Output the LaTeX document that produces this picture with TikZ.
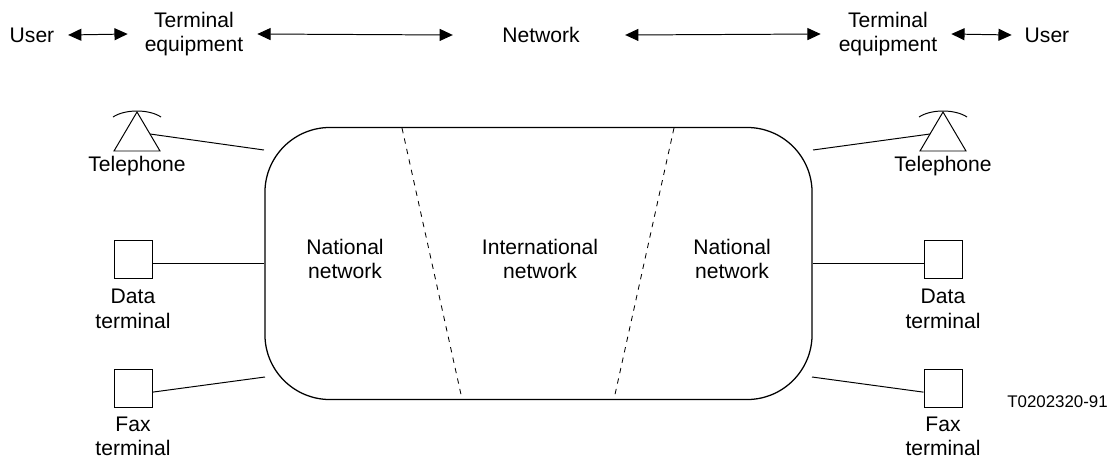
\documentclass[tikz,border=0pt]{standalone}
\usepackage{fontspec}
\setmainfont{Liberation Sans}
\usetikzlibrary{positioning,arrows.meta}

\begin{document}
\begin{tikzpicture}[x=0.025cm,y=-0.025cm,
		lbl/.style={inner sep=0pt,align=center,font=\fontsize{15}{17.4}\selectfont},
		termbox/.style={draw,line width=0.7pt,minimum size=0.95cm,inner sep=0pt},
		wire/.style={line width=0.7pt},
		biarrow/.style={line width=0.7pt,{Triangle[length=0.33cm,width=0.3cm]}-{Triangle[length=0.33cm,width=0.3cm]}}]
	\useasboundingbox (0,0) rectangle (1112,461);
	% top row
	\node[lbl] (userL) at (32,35) {User};
	\node[lbl] (termL) at (194,34) {Terminal\\equipment};
	\node[lbl] (netT) at (541,35) {Network};
	\node[lbl] (termR) at (888,34) {Terminal\\equipment};
	\node[lbl] (userR) at (1047,35) {User};
	\draw[biarrow] ([xshift=0.34cm]userL.east) -- ([xshift=-0.42cm]termL.west);
	\draw[biarrow] ([xshift=0.345cm]termL.east) -- ([xshift=-1.23cm]netT.west);
	\draw[biarrow] ([xshift=1.13cm]netT.east) -- ([xshift=-0.445cm]termR.west);
	\draw[biarrow] ([xshift=0.345cm]termR.east) -- ([xshift=-0.32cm]userR.west);
	% network
	\node[draw,line width=0.9pt,rounded corners=1.625cm,minimum width=13.675cm,
		minimum height=6.8cm] (net) at (538.5,263.5) {};
	\draw[dash pattern=on 3.8pt off 3.8pt,line width=0.6pt] (402,128) -- (462,399)
		(674,128) -- (614,399);
	\node[lbl] (natL) at (345,259) {National\\network};
	\node[lbl] (intl) at (540,259) {International\\network};
	\node[lbl] (natR) at (732,259) {National\\network};
	% telephones
	\coordinate (telL) at (137,112);
	\draw[wire] (telL) -- ++(-23,39) -- ++(46,0) -- cycle;
	\draw[wire] (113,117) .. controls (125,109) and (149,109) .. (161,117);
	\node[lbl,anchor=north] (telLlbl) at (137,156) {Telephone};
	\coordinate (telLc) at (150,134);
	\coordinate (telLe) at (264,150);
	\draw[wire] (telLc) -- (telLe);
	\coordinate (telR) at (943,112);
	\draw[wire] (telR) -- ++(-23,39) -- ++(46,0) -- cycle;
	\draw[wire] (919,117) .. controls (931,109) and (955,109) .. (967,117);
	\node[lbl,anchor=north] (telRlbl) at (943,156) {Telephone};
	\coordinate (telRc) at (930,134);
	\coordinate (telRe) at (813,150);
	\draw[wire] (telRe) -- (telRc);
	% data and fax terminals
	\node[termbox] (datL) at (133,259.5) {};
	\node[lbl,below=0.25cm of datL] (datLlbl) {Data\\terminal};
	\node[termbox] (faxL) at (133,388) {};
	\node[lbl,below=0.225cm of faxL] (faxLlbl) {Fax\\terminal};
	\draw[wire] (datL.east |- net.west) -- (net.west);
	\coordinate (faxLe) at (265,377);
	\draw[wire] (faxL.-12) -- (faxLe);
	\node[termbox] (datR) at (943,259.5) {};
	\node[lbl,below=0.25cm of datR] (datRlbl) {Data\\terminal};
	\node[termbox] (faxR) at (943,388) {};
	\node[lbl,below=0.225cm of faxR] (faxRlbl) {Fax\\terminal};
	\draw[wire] (net.east) -- (datR.west |- net.east);
	\coordinate (faxRe) at (812,377);
	\draw[wire] (faxRe) -- (faxR.192);
	\node[inner sep=0pt,font=\fontsize{12}{14}\selectfont] (code) at (1057.5,402) {T0202320-91};
\end{tikzpicture}
\end{document}
